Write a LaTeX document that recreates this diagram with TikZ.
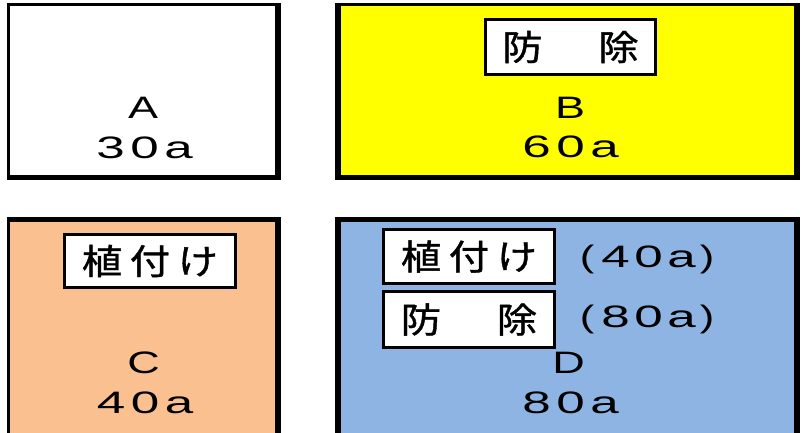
\documentclass[tikz,border=0pt]{standalone}
\usepackage{fontspec}
\usepackage{graphicx}
\setmainfont{Liberation Sans}
\newfontfamily\jpfont[FakeBold=1]{Noto Sans CJK JP}
\newcommand\cellrow[3]{\def\mycw{#1}\def\mysc{#2}\cellloop#3\relax}
\def\cellloop#1{\ifx\relax#1\else\makebox[\mycw pt][c]{\scalebox{\mysc}[1]{#1}}\expandafter\cellloop\fi}
\definecolor{fillB}{HTML}{FFFF00}
\definecolor{fillC}{HTML}{FAC090}
\definecolor{fillD}{HTML}{8DB4E2}
\begin{document}
\begin{tikzpicture}[x=1pt,y=-1pt,
  lat/.style={inner sep=0pt, font=\fontsize{31}{36}\selectfont, anchor=base},
  labbox/.style={draw, line width=2.7pt, fill=white, inner sep=0pt, font=\jpfont\fontsize{35}{40}\selectfont}]
\useasboundingbox (0,0) rectangle (802,433);
% outer fields (border + shadow)
\fill[black] (7,3) rectangle (281,180);
\fill[white] (10,6) rectangle (275,175);
\fill[black] (335,3) rectangle (800,180);
\fill[fillB] (341,6) rectangle (794,175);
\fill[black] (7,217) rectangle (281,445);
\fill[fillC] (10,222) rectangle (275,445);
\fill[black] (335,217) rectangle (800,445);
\fill[fillD] (341,222) rectangle (794,445);
% field texts
\node[lat] (A) at (143,118) {\cellrow{34}{1.45}{A}};
\node[lat] (Aa) at (144.5,158) {\cellrow{34}{1.65}{30a}};
\node[lat] (B) at (570,118) {\cellrow{34}{1.45}{B}};
\node[lat] (Ba) at (570.5,157) {\cellrow{34}{1.65}{60a}};
\node[lat] (C) at (143.5,373) {\cellrow{34}{1.45}{C}};
\node[lat] (Ca) at (145,413) {\cellrow{34}{1.65}{40a}};
\node[lat] (D) at (568.5,373) {\cellrow{34}{1.45}{D}};
\node[lat] (Da) at (570.5,413) {\cellrow{34}{1.65}{80a}};
% work labels
\node[labbox, minimum width=170.4pt, minimum height=55.4pt] (Blab) at (570.5,47) {\cellrow{48}{1.15}{防　除}};
\node[labbox, minimum width=170.7pt, minimum height=53pt] (Clab) at (150,261) {\cellrow{48}{1.15}{植付け}};
\node[labbox, minimum width=171pt, minimum height=54pt] (Dlab1) at (469,256.5) {\cellrow{48}{1.15}{植付け}};
\node[labbox, minimum width=171pt, minimum height=56pt] (Dlab2) at (469,319.5) {\cellrow{48}{1.15}{防　除}};
\node[lat, anchor=base west] (Dp1) at (575,267) {\makebox[24pt][c]{\scalebox{1.4}[1]{(}}\cellrow{33}{1.65}{40a}\makebox[18pt][c]{\scalebox{1.4}[1]{)}}};
\node[lat, anchor=base west] (Dp2) at (575,327.5) {\makebox[24pt][c]{\scalebox{1.4}[1]{(}}\cellrow{33}{1.65}{80a}\makebox[18pt][c]{\scalebox{1.4}[1]{)}}};
\end{tikzpicture}
\end{document}
